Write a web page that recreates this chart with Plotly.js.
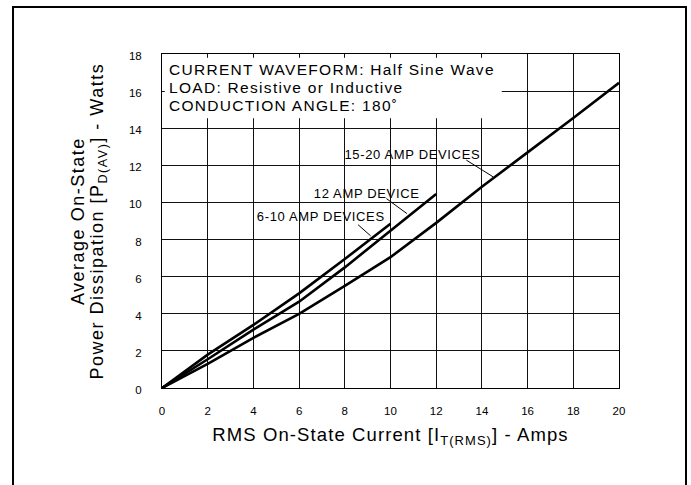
<!DOCTYPE html>
<html>
<head>
<meta charset="utf-8">
<script src="https://cdn.plot.ly/plotly-3.0.1.min.js"></script>
<style>
html,body{margin:0;padding:0;background:#fff;}
#frame{position:absolute;left:12px;top:6px;width:671px;height:490px;border:2px solid #000;border-bottom:none;pointer-events:none;z-index:5;}
</style>
</head>
<body>
<div id="chart" style="width:691px;height:485px;"></div>
<div id="frame"></div>
<script>
// Data
const xTop = [0, 2, 4, 6, 8, 10];
const yTop = [0, 1.8, 3.4, 5.1, 6.95, 8.85];          // 6-10 AMP DEVICES
const xMid = [0, 2, 4, 6, 8, 10, 12];
const yMid = [0, 1.55, 3.15, 4.65, 6.5, 8.5, 10.45];  // 12 AMP DEVICE
const xBot = [0, 2, 4, 6, 8, 10, 12, 14, 16, 18, 20];
const yBot = [0, 1.3, 2.7, 4.0, 5.5, 7.05, 8.9, 10.85, 12.7, 14.55, 16.45]; // 15-20 AMP DEVICES
const seriesNames = ['6-10 AMP DEVICES', '12 AMP DEVICE', '15-20 AMP DEVICES'];
const xTicks = [0, 2, 4, 6, 8, 10, 12, 14, 16, 18, 20];
const yTicks = [0, 2, 4, 6, 8, 10, 12, 14, 16, 18];
const boxLines = ['CURRENT WAVEFORM: Half Sine Wave', 'LOAD: Resistive or Inductive', 'CONDUCTION ANGLE: 180\u02da'];
const xTitle = 'RMS On-State Current [I<sub>T(RMS)</sub>] - Amps';
const yTitle1 = 'Average On-State';
const yTitle2 = 'Power Dissipation [P<sub>D(AV)</sub>] - Watts';

const F = 'Liberation Sans, Arial, sans-serif';
const lineStyle = {color: '#000', width: 2.6};

const traces = [
  {x: xTop, y: yTop, name: seriesNames[0], mode: 'lines', line: lineStyle, hoverinfo: 'x+y'},
  {x: xMid, y: yMid, name: seriesNames[1], mode: 'lines', line: lineStyle, hoverinfo: 'x+y'},
  {x: xBot, y: yBot, name: seriesNames[2], mode: 'lines', line: lineStyle, hoverinfo: 'x+y'}
];

const boxYs = [17.15, 16.19, 15.25];
const annotations = boxLines.map((t, i) => ({
  text: t, xref: 'x', yref: 'y', x: 0.2, y: boxYs[i], xanchor: 'left', yanchor: 'middle', align: 'left',
  showarrow: false, font: {family: F, size: 15.5, color: '#000'}
}));
annotations.push(
  {text: seriesNames[2], xref: 'x', yref: 'y', x: 10.95, y: 12.58, showarrow: false, font: {family: F, size: 13, color: '#000'}},
  {text: seriesNames[1], xref: 'x', yref: 'y', x: 8.95, y: 10.5, showarrow: false, font: {family: F, size: 13, color: '#000'}},
  {text: seriesNames[0], xref: 'x', yref: 'y', x: 6.97, y: 9.22, showarrow: false, font: {family: F, size: 13, color: '#000'}},
  {text: yTitle1, xref: 'paper', yref: 'paper', x: (78 - 162) / 457.5, y: 0.5, textangle: -90,
   showarrow: false, xanchor: 'center', yanchor: 'middle', font: {family: F, size: 18, color: '#000'}},
  {text: yTitle2, xref: 'paper', yref: 'paper', x: (98 - 162) / 457.5, y: 0.5, textangle: -90,
   showarrow: false, xanchor: 'center', yanchor: 'middle', font: {family: F, size: 18, color: '#000'}}
);
// letter spacing per annotation (applied after render)
const annSpacing = [1.3, 1.3, 1.3, 0.65, 0.65, 0.65, 1.5, 1.5];

const lc = {color: '#000', width: 1};
const shapes = [
  {type: 'rect', xref: 'x', yref: 'y', x0: 0.12, x1: 14.87, y0: 14.54, y1: 17.8, fillcolor: '#fff', line: {width: 0}, layer: 'above'},
  {type: 'line', xref: 'x', yref: 'y', x0: 13.32, y0: 12.28, x1: 14.49, y1: 11.38, line: lc},
  {type: 'line', xref: 'x', yref: 'y', x0: 9.82, y0: 10.21, x1: 10.72, y1: 9.4, line: lc},
  {type: 'line', xref: 'x', yref: 'y', x0: 8.58, y0: 8.8, x1: 9.13, y1: 8.2, line: lc}
];

const axisCommon = {
  showgrid: true, gridcolor: '#111', gridwidth: 1, zeroline: false,
  showline: true, linecolor: '#000', linewidth: 1, mirror: true,
  ticks: '', tickfont: {family: F, size: 11.5, color: '#000'}, fixedrange: true
};

const layout = {
  width: 691, height: 485,
  margin: {l: 162, r: 72, t: 54, b: 97},
  paper_bgcolor: '#fff', plot_bgcolor: '#fff',
  showlegend: false,
  xaxis: Object.assign({}, axisCommon, {
    range: [0, 20], tickvals: xTicks, ticklabelstandoff: 12,
    title: {text: xTitle, font: {family: F, size: 18.5, color: '#000'}, standoff: 12}
  }),
  yaxis: Object.assign({}, axisCommon, {
    range: [0, 18], tickvals: yTicks, ticklabelstandoff: 17, ticklabelshift: 2
  }),
  annotations: annotations,
  shapes: shapes
};

Plotly.newPlot('chart', traces, layout, {displayModeBar: false, staticPlot: true}).then(gd => {
  const anns = gd.querySelectorAll('.annotation');
  anns.forEach((g, i) => {
    const t = g.querySelector('text.annotation-text');
    if (t && annSpacing[i] !== undefined) t.setAttribute('letter-spacing', annSpacing[i]);
  });
  const xt = gd.querySelector('.xtitle');
  if (xt) xt.setAttribute('letter-spacing', 1.1);
});
</script>
</body>
</html>
